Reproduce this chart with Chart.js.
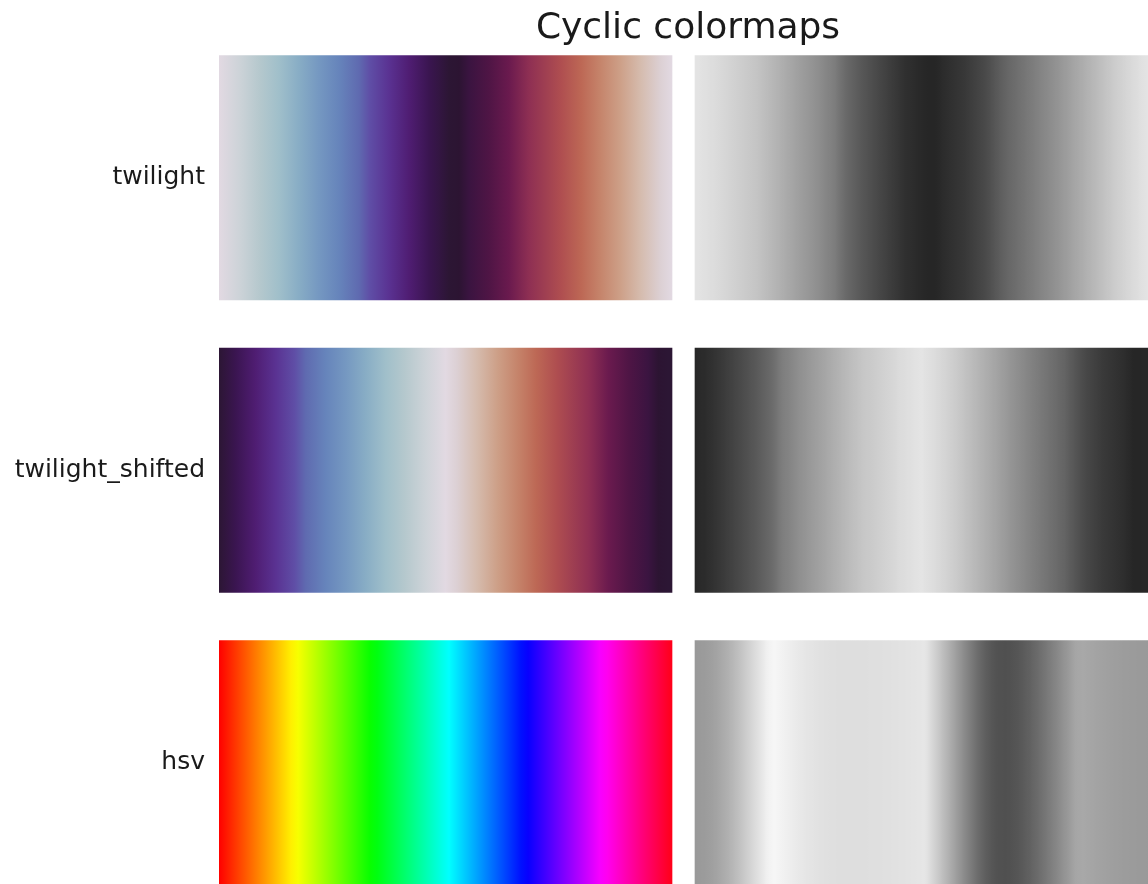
<!DOCTYPE html>
<html lang="en">
<head>
<meta charset="UTF-8">
<title>Cyclic colormaps</title>
<script src="https://cdn.jsdelivr.net/npm/chart.js@4.4.1/dist/chart.umd.min.js"></script>
<style>
  html, body { margin: 0; padding: 0; background: #fff; overflow: hidden; }
  #wrap { width: 1148px; height: 884px; overflow: hidden; }
</style>
</head>
<body>
<div id="wrap"><canvas id="cmaps" width="1148" height="909"></canvas></div>
<script>
// ---- data ----
const chartTitle = 'Cyclic colormaps';
const cmapNames = ['twilight', 'twilight_shifted', 'hsv'];

// twilight colour stops
const twilightPos = [0, 0.045, 0.09, 0.132, 0.176, 0.22, 0.265, 0.309, 0.333, 0.375, 0.42, 0.464,
                     0.508, 0.53, 0.552, 0.596, 0.64, 0.684, 0.755, 0.8, 0.84, 0.885, 0.93, 0.975, 1];
const twilightHex = ['#e2d9e2', '#cdd3d8', '#b5c8cd', '#a0bfca', '#88adc5', '#7598c1', '#6684bb',
                     '#5f6ab0', '#5f4ea6', '#5a3292', '#4f1d72', '#3a1550', '#2c1634', '#2c1432',
                     '#3a1440', '#4f1545', '#6a1a4e', '#8e2f53', '#af4e50', '#bd6855', '#c5836a',
                     '#cd9f87', '#d5bbad', '#dcd0d4', '#e2d9e2'];

// hsv segment break points (matplotlib hsv)
const hsvPos = [0, 0.15873, 0.174603, 0.333333, 0.349206, 0.507937, 0.666667, 0.68254, 0.84127, 0.857143, 1];
const hsvHex = ['#ff0000', '#ffef00', '#f7ff00', '#08ff00', '#00ff10', '#00ffff', '#0010ff', '#0800ff',
                '#f700ff', '#ff00ef', '#ff0018'];

// twilight_shifted = twilight reversed and rolled by half a cycle
const shiftedPos = [0];
const shiftedHex = [twilightHex[12]];
twilightPos.forEach((t, i) => {
  shiftedPos.push(t <= 0.5 ? 0.5 - t : 1.5 - t);
  shiftedHex.push(twilightHex[i]);
});
shiftedPos.push(1);
shiftedHex.push(twilightHex[12]);

const cmapPos = [twilightPos, shiftedPos, hsvPos];
const cmapHex = [twilightHex, shiftedHex, hsvHex];

// ---- colour helpers ----
function hexToRgb(h) {
  return [parseInt(h.slice(1, 3), 16), parseInt(h.slice(3, 5), 16), parseInt(h.slice(5, 7), 16)];
}

function sortedStops(k) {
  return cmapPos[k].map((t, i) => [t, cmapHex[k][i]]).sort((a, b) => a[0] - b[0]);
}

function sampleCmap(stops, t) {
  for (let i = 1; i < stops.length; i++) {
    if (t <= stops[i][0]) {
      const t0 = stops[i - 1][0], t1 = stops[i][0];
      const f = t1 > t0 ? (t - t0) / (t1 - t0) : 0;
      const a = hexToRgb(stops[i - 1][1]), b = hexToRgb(stops[i][1]);
      return a.map((v, j) => v + (b[j] - v) * f);
    }
  }
  return hexToRgb(stops[stops.length - 1][1]);
}

// CAM02-UCS lightness J' (same as the matplotlib colormap tutorial)
const XW = [95.047, 100, 108.883];
const LA = 64 / Math.PI / 5, YB = 20, F = 1, CC = 0.69;
const MCAT = [[0.7328, 0.4296, -0.1624], [-0.7036, 1.6975, 0.0061], [0.0030, 0.0136, 0.9834]];
const MHPE = [[0.38971, 0.68898, -0.07868], [-0.22981, 1.18340, 0.04641], [0, 0, 1]];
const MCATI = [[1.096124, -0.278869, 0.182745], [0.454369, 0.473533, 0.072098], [-0.009628, -0.005698, 1.015326]];
const mul = (m, v) => m.map(r => r[0] * v[0] + r[1] * v[1] + r[2] * v[2]);
const D = Math.min(1, Math.max(0, F * (1 - (1 / 3.6) * Math.exp((-LA - 42) / 92))));
const kk = 1 / (5 * LA + 1);
const FL = 0.2 * Math.pow(kk, 4) * 5 * LA + 0.1 * Math.pow(1 - Math.pow(kk, 4), 2) * Math.cbrt(5 * LA);
const nn = YB / XW[1];
const zz = 1.48 + Math.sqrt(nn);
const Nbb = 0.725 * Math.pow(1 / nn, 0.2);
const RGBW = mul(MCAT, XW);

function achromatic(xyz) {
  const rgb = mul(MCAT, xyz);
  const rgbc = rgb.map((v, i) => (XW[1] * D / RGBW[i] + 1 - D) * v);
  const rgbp = mul(MHPE, mul(MCATI, rgbc));
  const ra = rgbp.map(v => {
    const x = Math.pow(FL * Math.abs(v) / 100, 0.42);
    return Math.sign(v) * 400 * x / (27.13 + x) + 0.1;
  });
  return (2 * ra[0] + ra[1] + ra[2] / 20 - 0.305) * Nbb;
}
const AW = achromatic(XW);

function lightness(rgb) {
  const lin = rgb.map(c => { c /= 255; return c <= 0.04045 ? c / 12.92 : Math.pow((c + 0.055) / 1.055, 2.4); });
  const xyz = [
    (0.4124 * lin[0] + 0.3576 * lin[1] + 0.1805 * lin[2]) * 100,
    (0.2126 * lin[0] + 0.7152 * lin[1] + 0.0722 * lin[2]) * 100,
    (0.0193 * lin[0] + 0.1192 * lin[1] + 0.9505 * lin[2]) * 100
  ];
  const J = 100 * Math.pow(Math.max(0, achromatic(xyz) / AW), CC * zz);
  return 1.7 * J / (1 + 0.007 * J);
}

// gray version: the colormap seen through its lightness, shown with binary_r
function grayStops(k) {
  const stops = sortedStops(k);
  const out = [];
  for (let i = 0; i <= 255; i++) {
    const t = i / 255;
    const g = Math.round(255 * Math.min(1, Math.max(0, lightness(sampleCmap(stops, t)) / 100)));
    out.push([t, `rgb(${g},${g},${g})`]);
  }
  return out;
}

const gradCache = {};
function panelFill(ctx) {
  const chart = ctx.chart;
  if (!chart.chartArea || ctx.type !== 'data' || !chart.scales.x) return 'rgba(0,0,0,0)';
  const xs = chart.scales.x;
  const p0 = xs.getPixelForValue(ctx.raw[0]);
  const p1 = xs.getPixelForValue(ctx.raw[1]);
  const key = [ctx.datasetIndex, ctx.dataIndex, p0.toFixed(1), p1.toFixed(1)].join('|');
  if (!gradCache[key]) {
    const g = chart.ctx.createLinearGradient(p0, 0, p1, 0);
    const stops = ctx.datasetIndex === 0 ? sortedStops(ctx.dataIndex) : grayStops(ctx.dataIndex);
    stops.forEach(s => g.addColorStop(Math.min(1, Math.max(0, s[0])), s[1]));
    gradCache[key] = g;
  }
  return gradCache[key];
}

// two panels per row: colour on the left, lightness on the right
const gap = 23 / 453;
const colourSpans = cmapNames.map(() => [0, 1]);
const graySpans = cmapNames.map(() => [1 + gap, 2 + gap]);

const titlePlugin = {
  id: 'figTitle',
  afterDraw(chart) {
    const c = chart.ctx;
    c.save();
    c.font = '36px "DejaVu Sans"';
    c.fillStyle = '#1a1a1a';
    c.textAlign = 'center';
    c.textBaseline = 'middle';
    c.fillText(chartTitle, 688, 29);
    c.restore();
  }
};

new Chart(document.getElementById('cmaps'), {
  type: 'bar',
  data: {
    labels: cmapNames,
    datasets: [
      { data: colourSpans, backgroundColor: panelFill, grouped: false, barThickness: 244.3, borderWidth: 0 },
      { data: graySpans, backgroundColor: panelFill, grouped: false, barThickness: 244.3, borderWidth: 0 }
    ]
  },
  options: {
    indexAxis: 'y',
    responsive: false,
    animation: false,
    events: [],
    devicePixelRatio: 1,
    layout: { padding: { top: 31.6, right: 0, bottom: 0, left: 0 } },
    plugins: { legend: { display: false }, tooltip: { enabled: false }, title: { display: false } },
    scales: {
      x: { type: 'linear', display: false, min: 0, max: 2 + gap },
      y: {
        type: 'category',
        grid: { display: false, drawTicks: false },
        border: { display: false },
        ticks: { padding: 14, color: '#1a1a1a', font: { family: 'DejaVu Sans', size: 25 } },
        afterFit(scale) {
          scale.width = 219;
          scale.paddingTop = 0;
          scale.paddingBottom = 0;
        }
      }
    }
  },
  plugins: [titlePlugin]
});
</script>
</body>
</html>
